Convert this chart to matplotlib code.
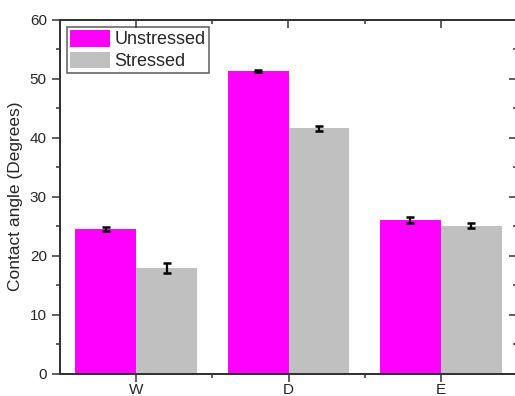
import matplotlib
matplotlib.use("Agg")
import matplotlib.pyplot as plt
import numpy as np
from matplotlib.ticker import MultipleLocator, FixedLocator, NullFormatter

plt.rcParams['font.family'] = ['Liberation Sans', 'DejaVu Sans']

categories = ["W", "D", "E"]
unstressed = [24.5, 51.25, 26.0]
unstressed_err = [0.3, 0.2, 0.55]
stressed = [17.85, 41.55, 25.1]
stressed_err = [0.85, 0.4, 0.5]

col_un = "#FF00FF"
col_st = "#C0C0C0"
txt = "#262626"
axc = "#333333"

fig = plt.figure(figsize=(5.15, 3.96), dpi=100)
ax = fig.add_axes([60/515, 1 - 373.7/396, 457/515, (373.7 - 19.5)/396])

x = np.arange(1, len(categories) + 1)
w = 0.4
ax.bar(x - w/2, unstressed, w, color=col_un, label="Unstressed", zorder=2)
ax.bar(x + w/2, stressed, w, color=col_st, label="Stressed", zorder=2)
ekw = dict(fmt="none", ecolor="black", elinewidth=1.6, capsize=3.0, capthick=1.8, zorder=3)
ax.errorbar(x - w/2, unstressed, yerr=unstressed_err, **ekw)
ax.errorbar(x + w/2, stressed, yerr=stressed_err, **ekw)

ax.set_xlim(0.5, 3.5)
ax.set_ylim(0, 60)
ax.set_xticks(x)
ax.set_xticklabels(categories)
ax.xaxis.set_minor_locator(FixedLocator([1.5, 2.5]))
ax.yaxis.set_major_locator(MultipleLocator(10))
ax.yaxis.set_minor_locator(MultipleLocator(5))

for s in ax.spines.values():
    s.set_color(axc)
    s.set_linewidth(1.2)

ax.tick_params(axis="both", which="major", direction="out", length=5.5, width=1.1,
               color=axc, labelsize=11, labelcolor=txt, pad=4)
ax.tick_params(axis="both", which="minor", direction="out", length=3, width=1.1,
               color=axc)
ax.tick_params(axis="x", which="major", labelsize=11, pad=1.5)

# mirrored ticks on top and right, pointing inward
ax2 = ax.twinx()
ax2.set_ylim(ax.get_ylim())
ax2.yaxis.set_major_locator(MultipleLocator(10))
ax2.yaxis.set_minor_locator(MultipleLocator(5))
ax2.yaxis.set_major_formatter(NullFormatter())
ax2.tick_params(axis="y", which="major", direction="in", length=5.5, width=1.1, color=axc)
ax2.tick_params(axis="y", which="minor", direction="in", length=3, width=1.1, color=axc)
ax3 = ax.twiny()
ax3.set_xlim(ax.get_xlim())
ax3.set_xticks(x)
ax3.xaxis.set_minor_locator(FixedLocator([1.5, 2.5]))
ax3.xaxis.set_major_formatter(NullFormatter())
ax3.tick_params(axis="x", which="major", direction="in", length=5.5, width=1.1, color=axc)
ax3.tick_params(axis="x", which="minor", direction="in", length=3, width=1.1, color=axc)
for a in (ax2, ax3):
    for s in a.spines.values():
        s.set_color(axc)
        s.set_linewidth(1.2)

ax.set_ylabel("Contact angle (Degrees)", fontsize=12.5, color=txt, labelpad=5)

leg = ax.legend(loc="upper left", bbox_to_anchor=(0.015, 0.98), fontsize=13,
                frameon=True, fancybox=False, edgecolor=axc,
                handlelength=2.2, handleheight=1.05, handletextpad=0.25,
                labelspacing=0.18, borderpad=0.18, borderaxespad=0.0)
leg.get_frame().set_linewidth(1.1)
for t in leg.get_texts():
    t.set_color(txt)

fig.savefig("out.png", dpi=100)
